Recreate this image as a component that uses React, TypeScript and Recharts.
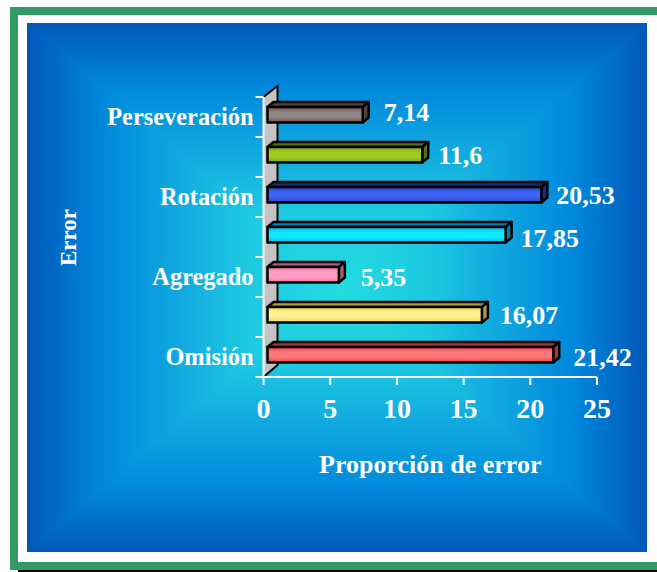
import { BarChart, Bar, XAxis, YAxis, ReferenceArea, LabelList } from 'recharts';

const categories = ['Omisión', ' ', 'Agregado', '  ', 'Rotación', '   ', 'Perseveración'];
const values = [21.42, 16.07, 5.35, 17.85, 20.53, 11.6, 7.14];
const xTicks = [0, 5, 10, 15, 20, 25];

// [light centre, edge, dark top face]
const barColors = [
  ['#ff7878', '#f04050', '#a83838'],
  ['#fff090', '#f8d858', '#b09c40'],
  ['#ff9cc4', '#f878a8', '#b05c80'],
  ['#10e8ff', '#00b8f0', '#0080a8'],
  ['#3c64f0', '#2840c0', '#1c2c80'],
  ['#a0cc20', '#80a818', '#586c10'],
  ['#908888', '#804848', '#504040'],
];
// the value labels sit a little off in the original
const labelNudge = [[14, 0], [12, -2], [16, 0], [9, 1], [9, -2], [10, -2], [15, -5]];

const data = categories.map((c, i) => ({ error: c, value: values[i], idx: i }));
const FONT = '"Liberation Serif", serif';

function Bar3D(props: any) {
  const { x, y, width, height, idx } = props;
  const left = x + 4;
  const right = left + width;
  const top = y - 2;
  const bottom = y + height - 2.5;
  const d = 6;
  return (
    <g stroke="#000" strokeWidth={2.5} strokeLinejoin="round">
      <polygon points={`${left},${top} ${left + d},${top - 5} ${right + d},${top - 5} ${right},${top}`} fill={barColors[idx][2]} />
      <polygon points={`${right},${top} ${right + d},${top - 5} ${right + d},${bottom - 5} ${right},${bottom}`} fill={barColors[idx][2]} />
      <rect x={left} y={top} width={width} height={bottom - top} fill={`url(#bar${idx})`} />
    </g>
  );
}

function CatTick(props: any) {
  const { x, y, payload, index } = props;
  return (
    <g>
      <line x1={x} x2={x + 8} y1={y + 20} y2={y + 20} stroke="#fff" strokeWidth={2} />
      {index === categories.length - 1 && <line x1={x} x2={x + 8} y1={y - 20} y2={y - 20} stroke="#fff" strokeWidth={2} />}
      <text x={x - 2} y={y + 8} textAnchor="end" fill="#fff" fontFamily={FONT} fontWeight="bold" fontSize={24.4}>
        {payload.value}
      </text>
    </g>
  );
}

function ValueLabel(props: any) {
  const { x, y, width, height, value, index } = props;
  const [dx, dy] = labelNudge[index];
  return (
    <text x={x + width + 10 + dx} y={y + height / 2 + 9 + dy} fill="#fff" fontFamily={FONT} fontWeight="bold" fontSize={26}>
      {String(value).replace('.', ',')}
    </text>
  );
}

function Wall(props: any) {
  const { x, y, width, height } = props;
  const w = 14;
  return (
    <g>
      <polygon points={`${x},${y} ${x + w},${y - 11} ${x + w},${y + height - 12} ${x},${y + height}`} fill="#c4c4c4" stroke="none" />
      <polyline points={`${x},${y} ${x + w},${y - 11} ${x + w},${y + height - 12} ${x},${y + height}`} fill="none" stroke="#000" strokeWidth={2} />
    </g>
  );
}

// rectangular path gradient: stops run from the panel centre (50%) out to the edge (100%)
const stops = '#24dce0 50%, #1cc8e0 65%, #14b0e0 73%, #0088dc 88%, #0058b8 100%';
const px = 310, py = 264.5;
const sideStyle = (pts: string, dir: string) => ({
  position: 'absolute' as const,
  inset: 0,
  clipPath: `polygon(${pts})`,
  background: `linear-gradient(${dir}, ${stops})`,
});

export default function App() {
  return (
    <div style={{ position: 'absolute', left: 0, top: 0, width: 657, height: 572, background: '#fff', overflow: 'hidden' }}>
      <div style={{ position: 'absolute', left: 10, top: 7, width: 647, height: 8, background: '#339966' }} />
      <div style={{ position: 'absolute', left: 10, top: 7, width: 8, height: 563, background: '#339966' }} />
      <div style={{ position: 'absolute', left: 18, top: 562, width: 639, height: 8, background: '#339966' }} />
      <div style={{ position: 'absolute', left: 18, top: 570, width: 639, height: 2, background: '#000' }} />
      <div
        style={{
          position: 'absolute',
          left: 27,
          top: 23,
          width: 620,
          height: 529,
          overflow: 'hidden',
          background: `linear-gradient(to bottom, #0058b8 0%, #0088dc 12%, #14b0e0 27%, #1cc8e0 35%, #24dce0 50%, #1cc8e0 65%, #14b0e0 73%, #0088dc 88%, #0058b8 100%)`,
        }}
      >
        <div style={sideStyle(`0 0, 0 100%, ${px}px ${py}px`, 'to left')} />
        <div style={sideStyle(`100% 0, 100% 100%, ${px}px ${py}px`, 'to right')} />
      </div>
      <div style={{ position: 'absolute', left: 0, top: 0 }}>
        <BarChart
          width={657}
          height={572}
          layout="vertical"
          data={data}
          margin={{ top: 97, right: 60, bottom: 145, left: 3.5 }}
          barCategoryGap={0}
        >
          <defs>
            {barColors.map((c, i) => (
              <linearGradient key={i} id={`bar${i}`} x1="0" y1="0" x2="0" y2="1">
                <stop offset="0%" stopColor={c[1]} />
                <stop offset="35%" stopColor={c[0]} />
                <stop offset="65%" stopColor={c[0]} />
                <stop offset="100%" stopColor={c[1]} />
              </linearGradient>
            ))}
          </defs>
          <ReferenceArea x1={0} x2={1} ifOverflow="visible" shape={Wall} />
          <XAxis
            type="number"
            domain={[0, 25]}
            ticks={xTicks}
            height={50}
            interval={0}
            tickSize={8}
            tickMargin={13}
            axisLine={{ stroke: '#fff', strokeWidth: 2 }}
            tickLine={{ stroke: '#fff', strokeWidth: 2 }}
            tick={{ fill: '#fff', fontSize: 28, fontWeight: 'bold', fontFamily: FONT }}
            label={{ value: 'Proporción de error', position: 'bottom', dy: 23, fill: '#fff', fontSize: 26, fontWeight: 'bold', fontFamily: FONT }}
          />
          <YAxis
            type="category"
            dataKey="error"
            reversed
            width={260}
            interval={0}
            tickLine={false}
            axisLine={{ stroke: '#fff', strokeWidth: 2 }}
            tick={CatTick}
            label={{ value: 'Error', angle: -90, position: 'insideLeft', dx: 59, dy: 29, fill: '#fff', fontSize: 23, fontWeight: 'bold', fontFamily: FONT }}
          />
          <Bar dataKey="value" barSize={16} shape={Bar3D} isAnimationActive={false}>
            <LabelList dataKey="value" content={ValueLabel} />
          </Bar>
        </BarChart>
      </div>
    </div>
  );
}
